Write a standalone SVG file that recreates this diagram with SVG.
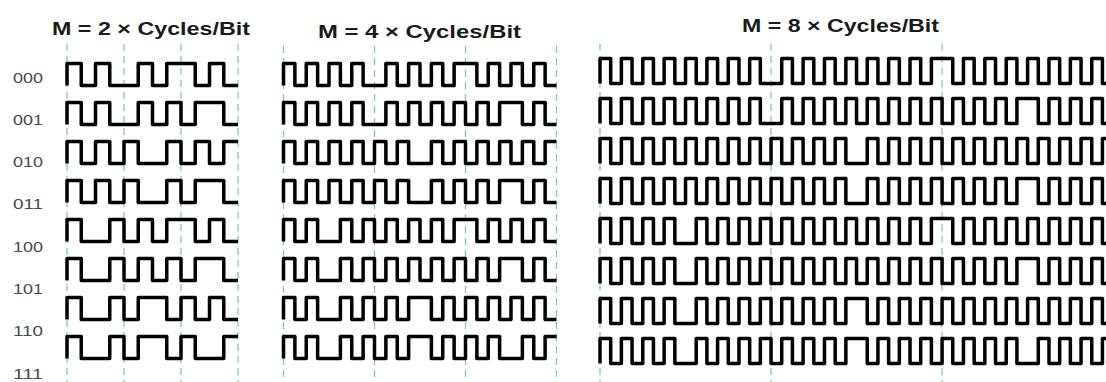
<svg xmlns="http://www.w3.org/2000/svg" width="1106" height="382" viewBox="0 0 1106 382">
<style>
.t{font-family:"Liberation Sans",Arial,sans-serif;font-weight:bold;font-size:18px;fill:#1a1a1a}
.lb{font-family:"Liberation Sans",Arial,sans-serif;font-size:14px;fill:#4a4a4a}
.grid line{stroke:#6fcfbf;stroke-width:1.3;stroke-dasharray:7 5}
.w path{fill:none;stroke:#000;stroke-width:3.5;stroke-linejoin:round}
</style>
<rect width="1106" height="382" fill="#fff"/>
<g id="titles">
<text class="t" x="52" y="35" textLength="198" lengthAdjust="spacingAndGlyphs">M = 2 × Cycles/Bit</text>
<text class="t" x="318" y="38" textLength="203" lengthAdjust="spacingAndGlyphs">M = 4 × Cycles/Bit</text>
<text class="t" x="742" y="31.5" textLength="197" lengthAdjust="spacingAndGlyphs">M = 8 × Cycles/Bit</text>
</g>
<g id="labels">
<text class="lb" x="13" y="82.5" textLength="30" lengthAdjust="spacingAndGlyphs">000</text>
<text class="lb" x="13" y="124.8" textLength="30" lengthAdjust="spacingAndGlyphs">001</text>
<text class="lb" x="13" y="167.1" textLength="30" lengthAdjust="spacingAndGlyphs">010</text>
<text class="lb" x="13" y="209.4" textLength="30" lengthAdjust="spacingAndGlyphs">011</text>
<text class="lb" x="13" y="251.7" textLength="30" lengthAdjust="spacingAndGlyphs">100</text>
<text class="lb" x="13" y="294" textLength="30" lengthAdjust="spacingAndGlyphs">101</text>
<text class="lb" x="13" y="336.3" textLength="30" lengthAdjust="spacingAndGlyphs">110</text>
<text class="lb" x="13" y="378.6" textLength="30" lengthAdjust="spacingAndGlyphs">111</text>
</g>
<g id="connectors" class="grid">
<line x1="67" y1="44" x2="67" y2="382"/>
<line x1="124" y1="44" x2="124" y2="382"/>
<line x1="181" y1="44" x2="181" y2="382"/>
<line x1="238" y1="44" x2="238" y2="382"/>
<line x1="283.5" y1="46" x2="283.5" y2="382"/>
<line x1="374.5" y1="46" x2="374.5" y2="382"/>
<line x1="465.5" y1="46" x2="465.5" y2="382"/>
<line x1="556.5" y1="46" x2="556.5" y2="382"/>
<line x1="600" y1="44" x2="600" y2="382"/>
<line x1="771" y1="44" x2="771" y2="382"/>
<line x1="942" y1="44" x2="942" y2="382"/>
</g>
<g id="m2" class="w" transform="translate(67,0)">
<path d="M0,85.5v-22 h14.25v22h14.25v-22 h14.25v22 h28.5v-22 h14.25v22h14.25v-22 h28.5v22 h14.25v-22h14.25v22 h14.25"/>
<path d="M0,124.5v-22 h14.25v22h14.25v-22 h14.25v22 h28.5v-22 h14.25v22h14.25v-22 h14.25v22h14.25v-22 h28.5v22 h14.25"/>
<path d="M0,163.5v-22 h14.25v22h14.25v-22 h14.25v22h14.25v-22 h14.25v22 h28.5v-22 h14.25v22h14.25v-22 h14.25v22h14.25v-22 h14.25"/>
<path d="M0,202.5v-22 h14.25v22h14.25v-22 h14.25v22h14.25v-22 h14.25v22 h28.5v-22 h14.25v22h14.25v-22 h28.5v22 h14.25"/>
<path d="M0,241.5v-22 h14.25v22 h28.5v-22 h14.25v22h14.25v-22 h14.25v22h14.25v-22 h28.5v22 h14.25v-22h14.25v22 h14.25"/>
<path d="M0,280.5v-22 h14.25v22 h28.5v-22 h14.25v22h14.25v-22 h14.25v22h14.25v-22 h14.25v22h14.25v-22 h28.5v22 h14.25"/>
<path d="M0,319.5v-22 h14.25v22 h28.5v-22 h14.25v22h14.25v-22 h28.5v22 h14.25v-22h14.25v22 h14.25v-22h14.25v22 h14.25"/>
<path d="M0,358.5v-22 h14.25v22 h28.5v-22 h14.25v22h14.25v-22 h28.5v22 h14.25v-22h14.25v22 h28.5v-22 h14.25"/>
</g>
<g id="m4" class="w" transform="translate(283.5,0)">
<path d="M0,85.5v-22 h11.375v22h11.375v-22 h11.375v22h11.375v-22 h11.375v22h11.375v-22 h11.375v22 h22.75v-22 h11.375v22h11.375v-22 h11.375v22h11.375v-22 h11.375v22h11.375v-22 h22.75v22 h11.375v-22h11.375v22 h11.375v-22h11.375v22 h11.375v-22h11.375v22 h11.375"/>
<path d="M0,124.5v-22 h11.375v22h11.375v-22 h11.375v22h11.375v-22 h11.375v22h11.375v-22 h11.375v22 h22.75v-22 h11.375v22h11.375v-22 h11.375v22h11.375v-22 h11.375v22h11.375v-22 h11.375v22h11.375v-22 h11.375v22h11.375v-22 h22.75v22 h11.375v-22h11.375v22 h11.375"/>
<path d="M0,163.5v-22 h11.375v22h11.375v-22 h11.375v22h11.375v-22 h11.375v22h11.375v-22 h11.375v22h11.375v-22 h11.375v22h11.375v-22 h11.375v22 h22.75v-22 h11.375v22h11.375v-22 h11.375v22h11.375v-22 h11.375v22h11.375v-22 h11.375v22h11.375v-22 h11.375v22h11.375v-22 h11.375"/>
<path d="M0,202.5v-22 h11.375v22h11.375v-22 h11.375v22h11.375v-22 h11.375v22h11.375v-22 h11.375v22h11.375v-22 h11.375v22h11.375v-22 h11.375v22 h22.75v-22 h11.375v22h11.375v-22 h11.375v22h11.375v-22 h11.375v22h11.375v-22 h22.75v22 h11.375v-22h11.375v22 h11.375"/>
<path d="M0,241.5v-22 h11.375v22h11.375v-22 h11.375v22 h22.75v-22 h11.375v22h11.375v-22 h11.375v22h11.375v-22 h11.375v22h11.375v-22 h11.375v22h11.375v-22 h11.375v22h11.375v-22 h22.75v22 h11.375v-22h11.375v22 h11.375v-22h11.375v22 h11.375v-22h11.375v22 h11.375"/>
<path d="M0,280.5v-22 h11.375v22h11.375v-22 h11.375v22 h22.75v-22 h11.375v22h11.375v-22 h11.375v22h11.375v-22 h11.375v22h11.375v-22 h11.375v22h11.375v-22 h11.375v22h11.375v-22 h11.375v22h11.375v-22 h11.375v22h11.375v-22 h22.75v22 h11.375v-22h11.375v22 h11.375"/>
<path d="M0,319.5v-22 h11.375v22h11.375v-22 h11.375v22 h22.75v-22 h11.375v22h11.375v-22 h11.375v22h11.375v-22 h11.375v22h11.375v-22 h22.75v22 h11.375v-22h11.375v22 h11.375v-22h11.375v22 h11.375v-22h11.375v22 h11.375v-22h11.375v22 h11.375v-22h11.375v22 h11.375"/>
<path d="M0,358.5v-22 h11.375v22h11.375v-22 h11.375v22 h22.75v-22 h11.375v22h11.375v-22 h11.375v22h11.375v-22 h11.375v22h11.375v-22 h22.75v22 h11.375v-22h11.375v22 h11.375v-22h11.375v22 h11.375v-22h11.375v22 h22.75v-22 h11.375v22h11.375v-22 h11.375"/>
</g>
<g id="m8" class="w" transform="translate(600,0)">
<path d="M0,83.5v-25 h10.69v25h10.69v-25 h10.69v25h10.69v-25 h10.69v25h10.69v-25 h10.69v25h10.69v-25 h10.69v25h10.69v-25 h10.69v25h10.69v-25 h10.69v25h10.69v-25 h10.69v25 h21.38v-25 h10.69v25h10.69v-25 h10.69v25h10.69v-25 h10.69v25h10.69v-25 h10.69v25h10.69v-25 h10.69v25h10.69v-25 h10.69v25h10.69v-25 h10.69v25h10.69v-25 h21.38v25 h10.69v-25h10.69v25 h10.69v-25h10.69v25 h10.69v-25h10.69v25 h10.69v-25h10.69v25 h10.69v-25h10.69v25 h10.69v-25h10.69v25 h10.69v-25h10.69v25 h10.69"/>
<path d="M0,123.5v-25 h10.69v25h10.69v-25 h10.69v25h10.69v-25 h10.69v25h10.69v-25 h10.69v25h10.69v-25 h10.69v25h10.69v-25 h10.69v25h10.69v-25 h10.69v25h10.69v-25 h10.69v25 h21.38v-25 h10.69v25h10.69v-25 h10.69v25h10.69v-25 h10.69v25h10.69v-25 h10.69v25h10.69v-25 h10.69v25h10.69v-25 h10.69v25h10.69v-25 h10.69v25h10.69v-25 h10.69v25h10.69v-25 h10.69v25h10.69v-25 h10.69v25h10.69v-25 h10.69v25h10.69v-25 h21.38v25 h10.69v-25h10.69v25 h10.69v-25h10.69v25 h10.69v-25h10.69v25 h10.69"/>
<path d="M0,163.5v-25 h10.69v25h10.69v-25 h10.69v25h10.69v-25 h10.69v25h10.69v-25 h10.69v25h10.69v-25 h10.69v25h10.69v-25 h10.69v25h10.69v-25 h10.69v25h10.69v-25 h10.69v25h10.69v-25 h10.69v25h10.69v-25 h10.69v25h10.69v-25 h10.69v25h10.69v-25 h10.69v25 h21.38v-25 h10.69v25h10.69v-25 h10.69v25h10.69v-25 h10.69v25h10.69v-25 h10.69v25h10.69v-25 h10.69v25h10.69v-25 h10.69v25h10.69v-25 h10.69v25h10.69v-25 h10.69v25h10.69v-25 h10.69v25h10.69v-25 h10.69v25h10.69v-25 h10.69v25h10.69v-25 h10.69"/>
<path d="M0,203.5v-25 h10.69v25h10.69v-25 h10.69v25h10.69v-25 h10.69v25h10.69v-25 h10.69v25h10.69v-25 h10.69v25h10.69v-25 h10.69v25h10.69v-25 h10.69v25h10.69v-25 h10.69v25h10.69v-25 h10.69v25h10.69v-25 h10.69v25h10.69v-25 h10.69v25h10.69v-25 h10.69v25 h21.38v-25 h10.69v25h10.69v-25 h10.69v25h10.69v-25 h10.69v25h10.69v-25 h10.69v25h10.69v-25 h10.69v25h10.69v-25 h10.69v25h10.69v-25 h10.69v25h10.69v-25 h21.38v25 h10.69v-25h10.69v25 h10.69v-25h10.69v25 h10.69v-25h10.69v25 h10.69"/>
<path d="M0,243.5v-25 h10.69v25h10.69v-25 h10.69v25h10.69v-25 h10.69v25h10.69v-25 h10.69v25 h21.38v-25 h10.69v25h10.69v-25 h10.69v25h10.69v-25 h10.69v25h10.69v-25 h10.69v25h10.69v-25 h10.69v25h10.69v-25 h10.69v25h10.69v-25 h10.69v25h10.69v-25 h10.69v25h10.69v-25 h10.69v25h10.69v-25 h10.69v25h10.69v-25 h10.69v25h10.69v-25 h21.38v25 h10.69v-25h10.69v25 h10.69v-25h10.69v25 h10.69v-25h10.69v25 h10.69v-25h10.69v25 h10.69v-25h10.69v25 h10.69v-25h10.69v25 h10.69v-25h10.69v25 h10.69"/>
<path d="M0,283.5v-25 h10.69v25h10.69v-25 h10.69v25h10.69v-25 h10.69v25h10.69v-25 h10.69v25 h21.38v-25 h10.69v25h10.69v-25 h10.69v25h10.69v-25 h10.69v25h10.69v-25 h10.69v25h10.69v-25 h10.69v25h10.69v-25 h10.69v25h10.69v-25 h10.69v25h10.69v-25 h10.69v25h10.69v-25 h10.69v25h10.69v-25 h10.69v25h10.69v-25 h10.69v25h10.69v-25 h10.69v25h10.69v-25 h10.69v25h10.69v-25 h10.69v25h10.69v-25 h10.69v25h10.69v-25 h21.38v25 h10.69v-25h10.69v25 h10.69v-25h10.69v25 h10.69v-25h10.69v25 h10.69"/>
<path d="M0,323.5v-25 h10.69v25h10.69v-25 h10.69v25h10.69v-25 h10.69v25h10.69v-25 h10.69v25 h21.38v-25 h10.69v25h10.69v-25 h10.69v25h10.69v-25 h10.69v25h10.69v-25 h10.69v25h10.69v-25 h10.69v25h10.69v-25 h10.69v25h10.69v-25 h10.69v25h10.69v-25 h21.38v25 h10.69v-25h10.69v25 h10.69v-25h10.69v25 h10.69v-25h10.69v25 h10.69v-25h10.69v25 h10.69v-25h10.69v25 h10.69v-25h10.69v25 h10.69v-25h10.69v25 h10.69v-25h10.69v25 h10.69v-25h10.69v25 h10.69v-25h10.69v25 h10.69v-25h10.69v25 h10.69"/>
<path d="M0,363.5v-25 h10.69v25h10.69v-25 h10.69v25h10.69v-25 h10.69v25h10.69v-25 h10.69v25 h21.38v-25 h10.69v25h10.69v-25 h10.69v25h10.69v-25 h10.69v25h10.69v-25 h10.69v25h10.69v-25 h10.69v25h10.69v-25 h10.69v25h10.69v-25 h10.69v25h10.69v-25 h21.38v25 h10.69v-25h10.69v25 h10.69v-25h10.69v25 h10.69v-25h10.69v25 h10.69v-25h10.69v25 h10.69v-25h10.69v25 h10.69v-25h10.69v25 h10.69v-25h10.69v25 h21.38v-25 h10.69v25h10.69v-25 h10.69v25h10.69v-25 h10.69v25h10.69v-25 h10.69"/>
</g>
</svg>
